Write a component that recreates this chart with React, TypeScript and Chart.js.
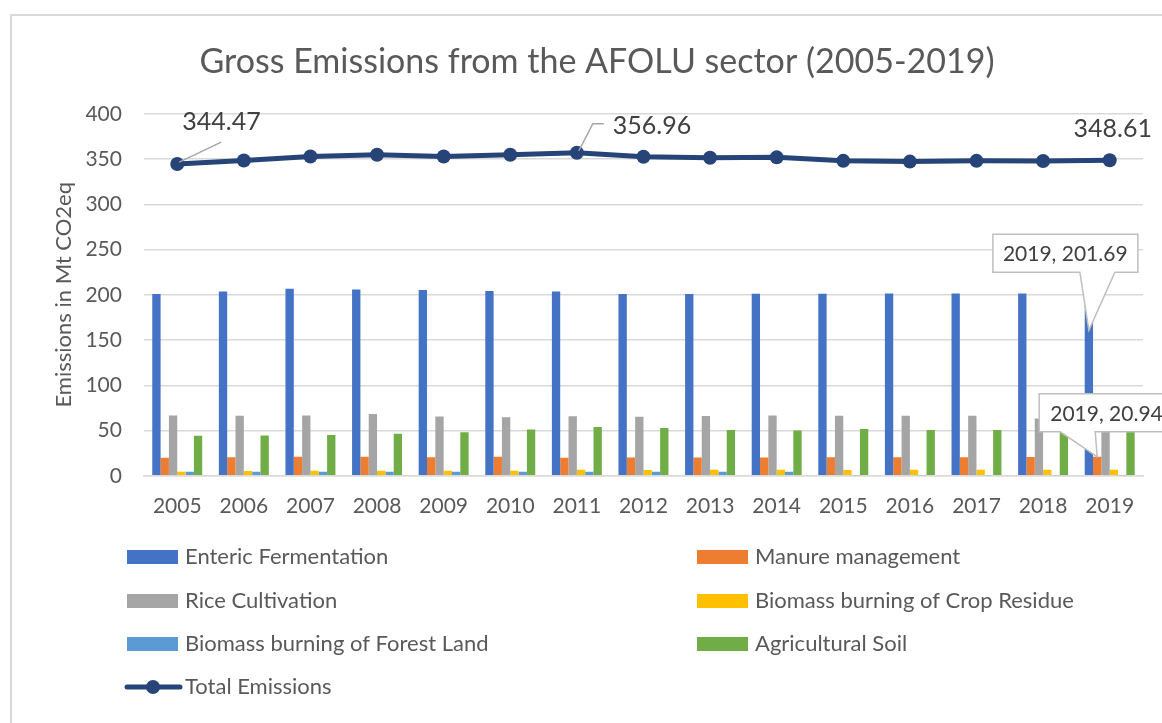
import React, { useEffect, useRef } from 'react';
import { Chart, registerables } from 'chart.js';

Chart.register(...registerables);

const FONT = 'Lato, "Open Sans", sans-serif';
const TEXT = '#595959';
const LABEL_TEXT = '#404040';
const GRID = '#d9d9d9';

const years = ['2005', '2006', '2007', '2008', '2009', '2010', '2011', '2012', '2013', '2014', '2015', '2016', '2017', '2018', '2019'];
const enteric = [200.8, 203.6, 206.6, 205.8, 205.2, 204.1, 203.6, 200.9, 201.0, 201.1, 201.2, 201.3, 201.4, 201.5, 201.69];
const manure = [19.9, 20.6, 21.0, 21.0, 20.6, 21.0, 19.9, 20.2, 20.2, 20.3, 20.4, 20.5, 20.6, 20.7, 20.94];
const rice = [66.6, 66.3, 66.6, 68.2, 65.5, 64.8, 65.9, 65.2, 66.0, 66.6, 66.3, 66.3, 66.3, 63.3, 63.0];
const cropResidue = [4.4, 5.2, 5.5, 5.5, 5.5, 5.5, 6.6, 6.3, 6.6, 6.6, 6.3, 6.6, 6.8, 6.8, 6.6];
const forestLand = [4.4, 4.4, 4.4, 4.4, 4.4, 4.4, 4.4, 4.4, 4.4, 4.4, 0.6, 0.6, 0.6, 0.6, 0.6];
const agriSoil = [44.2, 44.6, 45.0, 46.4, 48.2, 51.2, 53.8, 52.7, 50.5, 50.1, 51.6, 50.5, 50.5, 50.5, 50.8];
const totalEmissions = [344.47, 348.4, 352.8, 354.7, 352.8, 354.7, 356.96, 352.5, 351.4, 351.9, 348.0, 347.2, 348.0, 347.8, 348.61];

const seriesNames = ['Enteric Fermentation', 'Manure management', 'Rice Cultivation', 'Biomass burning of Crop Residue', 'Biomass burning of Forest Land', 'Agricultural Soil', 'Total Emissions'];
const seriesColors = ['#4472C4', '#ED7D31', '#A5A5A5', '#FFC000', '#5B9BD5', '#70AD47', '#264478'];

const titleText = 'Gross Emissions from the AFOLU sector (2005-2019)';
const yAxisTitle = 'Emissions in Mt CO2eq';
const totalLabelFirst = '344.47';
const totalLabelPeak = '356.96';
const totalLabelLast = '348.61';
const entericCallout = '2019, 201.69';
const manureCallout = '2019, 20.94';

const overlayPlugin = {
  id: 'overlay',
  beforeDraw(chart: any) {
    const ctx = chart.ctx;
    ctx.save();
    ctx.fillStyle = '#ffffff';
    ctx.fillRect(0, 0, chart.width, chart.height);
    ctx.strokeStyle = GRID;
    ctx.lineWidth = 2;
    ctx.beginPath();
    ctx.moveTo(11, chart.height);
    ctx.lineTo(11, 15);
    ctx.lineTo(chart.width, 15);
    ctx.stroke();
    ctx.restore();
  },
  afterDraw(chart: any) {
    const ctx = chart.ctx;
    ctx.save();
    const lineMeta = chart.getDatasetMeta(6);
    const p0 = lineMeta.data[0];
    const p6 = lineMeta.data[6];
    const p14 = lineMeta.data[14];

    // leader lines
    ctx.strokeStyle = '#a6a6a6';
    ctx.lineWidth = 1.5;
    ctx.beginPath();
    ctx.moveTo(p0.x + 2, p0.y - 2);
    ctx.lineTo(p0.x + 44, p0.y - 22);
    ctx.stroke();
    ctx.beginPath();
    ctx.moveTo(p6.x + 2, p6.y - 2);
    ctx.lineTo(p6.x + 16, p6.y - 29);
    ctx.lineTo(p6.x + 27, p6.y - 29);
    ctx.stroke();

    ctx.fillStyle = LABEL_TEXT;
    ctx.font = `25px ${FONT}`;
    ctx.textBaseline = 'middle';
    ctx.textAlign = 'left';
    ctx.fillText(totalLabelFirst, p0.x + 5, p0.y - 42);
    ctx.fillText(totalLabelPeak, p6.x + 36, p6.y - 27);
    ctx.textAlign = 'center';
    ctx.fillText(totalLabelLast, p14.x + 3, p14.y - 31);

    // callouts
    const drawCallout = (tipX: number, tipY: number, left: number, right: number, top: number, bottom: number, b1: number, b2: number, text: string, textX: number) => {
      ctx.beginPath();
      ctx.moveTo(left, top);
      ctx.lineTo(right, top);
      ctx.lineTo(right, bottom);
      ctx.lineTo(b2, bottom);
      ctx.lineTo(tipX, tipY);
      ctx.lineTo(b1, bottom);
      ctx.lineTo(left, bottom);
      ctx.closePath();
      ctx.fillStyle = '#ffffff';
      ctx.fill();
      ctx.strokeStyle = '#bfbfbf';
      ctx.lineWidth = 1.5;
      ctx.stroke();
      ctx.fillStyle = LABEL_TEXT;
      ctx.font = `21px ${FONT}`;
      ctx.textAlign = 'left';
      ctx.textBaseline = 'middle';
      ctx.fillText(text, textX, (top + bottom) / 2 + 1);
    };
    const b = chart.getDatasetMeta(0).data[14];
    drawCallout(b.x, b.y + 37, b.x - 96, b.x + 49, b.y - 59, b.y - 21, b.x - 9, b.x + 26, entericCallout, b.x - 86);
    const o = chart.getDatasetMeta(1).data[14];
    drawCallout(o.x, o.y, o.x - 58, o.x + 80, o.y - 63, o.y - 25, o.x - 37, o.x - 2, manureCallout, o.x - 47);

    // legend
    ctx.font = `22px ${FONT}`;
    ctx.textAlign = 'left';
    ctx.textBaseline = 'middle';
    const cols = [127, 697];
    const rows = [557, 601, 644, 687];
    for (let i = 0; i < 6; i++) {
      const x = cols[i % 2];
      const y = rows[Math.floor(i / 2)];
      ctx.fillStyle = seriesColors[i];
      ctx.fillRect(x, y - 7, 51, 14);
      ctx.fillStyle = TEXT;
      ctx.fillText(seriesNames[i], x + 58, y);
    }
    const ly = rows[3];
    ctx.strokeStyle = seriesColors[6];
    ctx.lineWidth = 5;
    ctx.lineCap = 'round';
    ctx.beginPath();
    ctx.moveTo(127, ly);
    ctx.lineTo(180, ly);
    ctx.stroke();
    ctx.fillStyle = seriesColors[6];
    ctx.beginPath();
    ctx.arc(153, ly, 7, 0, Math.PI * 2);
    ctx.fill();
    ctx.fillStyle = TEXT;
    ctx.fillText(seriesNames[6], 185, ly);
    ctx.restore();
  },
};

export default function App() {
  const ref = useRef<HTMLCanvasElement>(null);
  useEffect(() => {
    if (!ref.current) return;
    const barData = [enteric, manure, rice, cropResidue, forestLand, agriSoil];
    const chart = new Chart(ref.current, {
      type: 'bar',
      data: {
        labels: years,
        datasets: [
          ...barData.map((d, i) => ({
            type: 'bar' as const,
            label: seriesNames[i],
            data: d,
            backgroundColor: seriesColors[i],
            barPercentage: 1,
            categoryPercentage: 0.75,
            order: 1,
          })),
          {
            type: 'line' as const,
            label: seriesNames[6],
            data: totalEmissions,
            borderColor: seriesColors[6],
            backgroundColor: seriesColors[6],
            borderWidth: 5,
            pointRadius: 7,
            pointBackgroundColor: seriesColors[6],
            pointBorderWidth: 0,
            tension: 0,
            order: 0,
          },
        ],
      },
      options: {
        responsive: false,
        animation: false,
        layout: { padding: { left: 51, right: 19, top: 0, bottom: 186 } },
        plugins: {
          legend: { display: false },
          tooltip: { enabled: false },
          title: {
            display: true,
            text: titleText,
            color: TEXT,
            font: { family: FONT, size: 34, weight: 'normal' },
            padding: { top: 42, bottom: 31 },
          },
        },
        scales: {
          x: {
            grid: { display: false, drawTicks: false },
            border: { display: true, color: GRID, width: 1.5 },
            ticks: { color: TEXT, font: { family: FONT, size: 21 }, padding: 18, maxRotation: 0 },
          },
          y: {
            min: 0,
            max: 400,
            grid: { color: GRID, lineWidth: 1.5, drawTicks: false },
            border: { display: false },
            ticks: { stepSize: 50, color: TEXT, font: { family: FONT, size: 21 }, padding: 22 },
            title: {
              display: true,
              text: yAxisTitle,
              color: TEXT,
              font: { family: FONT, size: 22 },
              padding: { top: 0, bottom: -14 },
            },
          },
        },
      },
      plugins: [overlayPlugin],
    });
    return () => chart.destroy();
  }, []);
  return (
    <div style={{ position: 'absolute', left: 0, top: 0, width: 1162, height: 723 }}>
      <canvas ref={ref} width={1162} height={723} />
    </div>
  );
}
